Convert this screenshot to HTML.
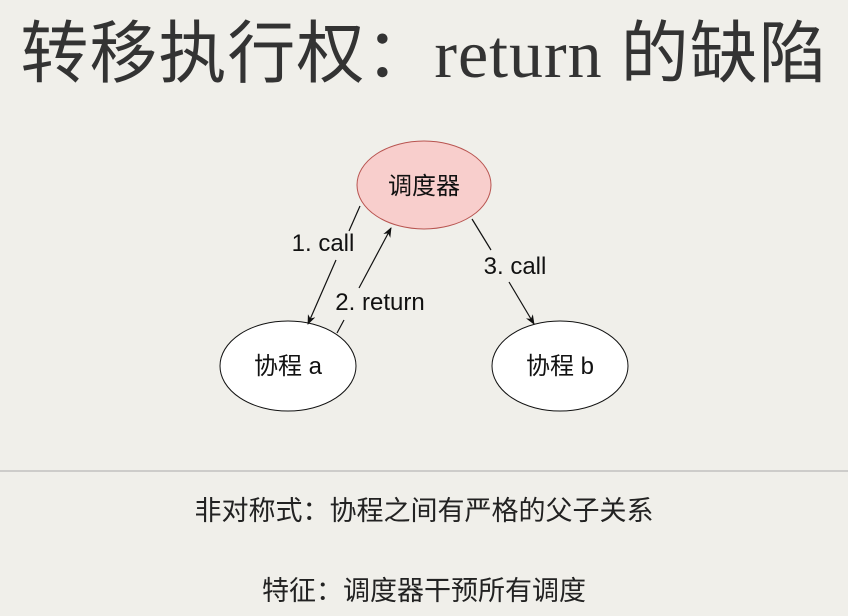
<!DOCTYPE html>
<html><head><meta charset="utf-8"><style>
body{margin:0;width:848px;height:616px;background:#f0efea;overflow:hidden;position:relative;font-family:"Liberation Sans","Noto Sans CJK SC",sans-serif;}
.t{position:absolute;left:0;width:848px;text-align:center;color:#222;white-space:nowrap}
</style></head><body>
<div class="t" style="top:4px;font-size:68px;line-height:100px;letter-spacing:1px;color:#333;font-family:'Liberation Serif','Noto Sans CJK SC',serif;">转移执行权：return 的缺陷</div>
<svg width="848" height="616" style="position:absolute;left:0;top:0">
<defs><marker id="a" markerWidth="10" markerHeight="8" refX="9" refY="4" orient="auto" markerUnits="userSpaceOnUse"><path d="M0,0 L10,4 L0,8 L3,4z" fill="#111"/></marker></defs>
<ellipse cx="424" cy="185" rx="67" ry="44" fill="#f8cecc" stroke="#b85450" stroke-width="1"/>
<ellipse cx="288" cy="366" rx="68" ry="45" fill="#fff" stroke="#111" stroke-width="1"/>
<ellipse cx="560" cy="366" rx="68" ry="45" fill="#fff" stroke="#111" stroke-width="1"/>
<g stroke="#111" stroke-width="1.2" fill="none">
<line x1="360" y1="206" x2="349" y2="231"/>
<line x1="336" y1="260" x2="308" y2="324" marker-end="url(#a)"/>
<line x1="337" y1="333" x2="344" y2="320"/>
<line x1="359" y1="288" x2="391" y2="228" marker-end="url(#a)"/>
<line x1="472" y1="219" x2="491" y2="250"/>
<line x1="509" y1="282" x2="534" y2="324" marker-end="url(#a)"/>
</g>
<g font-family="Liberation Sans,Noto Sans CJK SC,sans-serif" font-size="24" fill="#111" text-anchor="middle">
<text x="424" y="194">调度器</text>
<text x="288" y="374">协程 a</text>
<text x="560" y="374">协程 b</text>
<text x="323" y="251">1. call</text>
<text x="380" y="310">2. return</text>
<text x="515" y="274">3. call</text>
</g>
<line x1="0" y1="471" x2="848" y2="471" stroke="#aaa" stroke-width="1"/>
</svg>
<div class="t" style="top:492px;font-size:27px;line-height:38px;">非对称式：协程之间有严格的父子关系</div>
<div class="t" style="top:572px;font-size:27px;line-height:38px;">特征：调度器干预所有调度</div>
</body></html>
